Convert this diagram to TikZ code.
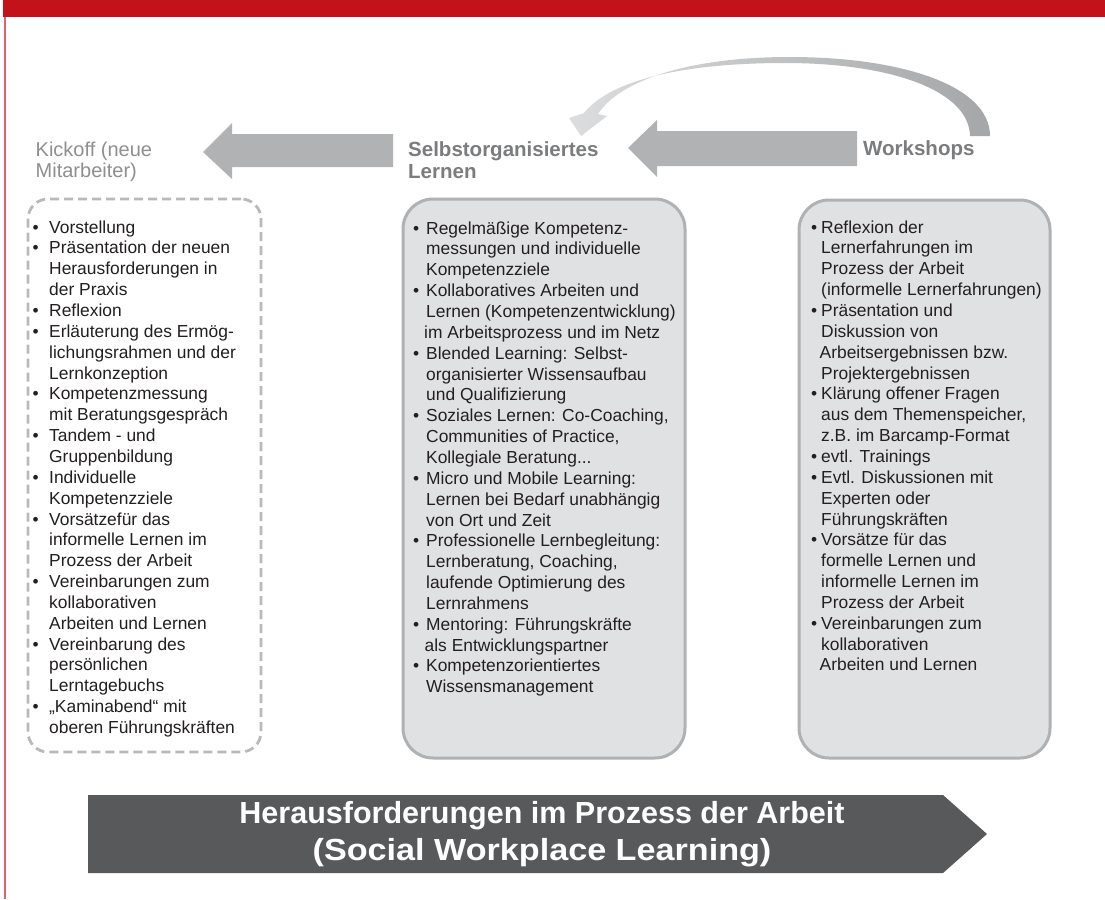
\documentclass[tikz,border=0pt]{standalone}
\usepackage{fontspec}
\setmainfont{Liberation Sans}
\definecolor{topred}{HTML}{C4121A}
\definecolor{linered}{HTML}{D8656B}
\definecolor{arrowgray}{HTML}{B1B2B4}
\definecolor{boxfill}{HTML}{E0E1E3}
\definecolor{boxline}{HTML}{B0B1B3}
\definecolor{dashgray}{HTML}{B8B9BB}
\definecolor{titlegray}{HTML}{7B7C7E}
\definecolor{kickgray}{HTML}{8E8F91}
\definecolor{bannergray}{HTML}{58595B}
\definecolor{bodytext}{HTML}{231F20}
\definecolor{curvedark}{HTML}{A5A6A8}
\definecolor{curvemid}{HTML}{C8C9CA}
\definecolor{curvelight}{HTML}{DCDDDE}
\newcommand\mybul[1]{\makebox[#1][l]{•}}
\newcommand\myind[1]{\hspace*{#1}}
\begin{document}
\begin{tikzpicture}[x=1pt,y=-1pt,
  listtext/.style={anchor=north west,inner sep=0pt,align=left,text=bodytext,
    font=\fontsize{17.4}{20.85}\selectfont},
  solidbox/.style={draw=boxline,line width=3pt,fill=boxfill,rounded corners=30pt,inner sep=0pt},
  dashbox/.style={draw=dashgray,line width=2.8pt,dash pattern=on 9pt off 5pt,rounded corners=20pt,inner sep=0pt},
  blockarrow/.style={fill=arrowgray,draw=none},
  headtitle/.style={inner sep=0pt,text=titlegray,align=left,
    font=\bfseries\fontsize{20.5}{22}\selectfont},
  bannertext/.style={inner sep=0pt,text=white,align=center,
    font=\bfseries\fontsize{30.5}{37}\selectfont}]
\useasboundingbox (0,0) rectangle (1105,899);
\fill[white] (0,0) rectangle (1105,899);
% red frame
\fill[topred] (3,0) rectangle (1105,17);
\draw[linered,line width=2pt] (5,17) -- (5,899);

% titles
\node[anchor=north west,inner sep=0pt,text=kickgray,align=left,
  font=\fontsize{20}{21.5}\selectfont] (kick) at (35.5,141.4) {Kickoff (neue\\Mitarbeiter)};
\node[headtitle,anchor=north west] (selb) at (408,141) {Selbstorganisiertes\\Lernen};
\node[headtitle,anchor=base west] (work) at (863,155) {Workshops};

% block arrows
\coordinate (a1tip) at (203,152);
\coordinate (a1end) at (393,150.5);
\fill[blockarrow] (a1tip) -- (232,123) -- (232,134) -- (a1end |- 0,134) -- (a1end |- 0,167) -- (232,167) -- (232,179) -- cycle;
\coordinate (a2tip) at (628,148);
\coordinate (a2end) at (857,148.5);
\fill[blockarrow] (a2tip) -- (657,120) -- (657,131) -- (a2end |- 0,131) -- (a2end |- 0,166) -- (657,166) -- (657,177) -- cycle;

% curved return arrow
\shade[left color=curvelight,middle color=curvemid,right color=curvedark]
  (990,136) .. controls (990,85) and (900,57) .. (790,57)
  .. controls (690,57) and (620,80) .. (598,114)
  -- (607,116) -- (581,136) -- (569,118) -- (584,113)
  .. controls (612,78) and (690,63) .. (785,63)
  .. controls (890,63) and (969,90) .. (970,136) -- cycle;

% boxes
\node[dashbox,minimum width=233pt,minimum height=553pt] (kickbox) at (144.5,475.5) {};
\node[solidbox,minimum width=282pt,minimum height=559pt] (selbox) at (544,478.5) {};
\node[solidbox,minimum width=251pt,minimum height=558pt] (workbox) at (924.5,479) {};

\node[listtext] (kicklist) at (32.5,220.3) {%
\mybul{16.5pt}Vorstellung\\
\mybul{16.5pt}Präsentation der neuen\\
\myind{16.5pt}Herausforderungen in\\
\myind{16.5pt}der Praxis\\
\mybul{16.5pt}Reflexion\\
\mybul{16.5pt}Erläuterung des Ermög-\\
\myind{16.5pt}lichungsrahmen und der\\
\myind{16.5pt}Lernkonzeption\\
\mybul{16.5pt}Kompetenzmessung\\
\myind{16.5pt}mit Beratungsgespräch\\
\mybul{16.5pt}Tandem - und\\
\myind{16.5pt}Gruppenbildung\\
\mybul{16.5pt}Individuelle\\
\myind{16.5pt}Kompetenzziele\\
\mybul{16.5pt}Vorsätzefür das\\
\myind{16.5pt}informelle Lernen im\\
\myind{16.5pt}Prozess der Arbeit\\
\mybul{16.5pt}Vereinbarungen zum\\
\myind{16.5pt}kollaborativen\\
\myind{16.5pt}Arbeiten und Lernen\\
\mybul{16.5pt}Vereinbarung des\\
\myind{16.5pt}persönlichen\\
\myind{16.5pt}Lerntagebuchs\\
\mybul{16.5pt}„Kaminabend“ mit\\
\myind{16.5pt}oberen Führungskräften};

\node[listtext] (sellist) at (413,221.3) {%
\mybul{13pt}Regelmäßige Kompetenz-\\
\myind{13pt}messungen und individuelle\\
\myind{13pt}Kompetenzziele\\
\mybul{13pt}Kollaboratives Arbeiten und\\
\myind{13pt}Lernen (Kompetenzentwicklung)\\
\myind{11pt}im Arbeitsprozess und im Netz\\
\mybul{13pt}Blended Learning: Selbst-\\
\myind{13pt}organisierter Wissensaufbau\\
\myind{13pt}und Qualifizierung\\
\mybul{13pt}Soziales Lernen: Co-Coaching,\\
\myind{13pt}Communities of Practice,\\
\myind{13pt}Kollegiale Beratung...\\
\mybul{13pt}Micro und Mobile Learning:\\
\myind{13pt}Lernen bei Bedarf unabhängig\\
\myind{13pt}von Ort und Zeit\\
\mybul{13pt}Professionelle Lernbegleitung:\\
\myind{13pt}Lernberatung, Coaching,\\
\myind{13pt}laufende Optimierung des\\
\myind{13pt}Lernrahmens\\
\mybul{13pt}Mentoring: Führungskräfte\\
\myind{11.5pt}als Entwicklungspartner\\
\mybul{13pt}Kompetenzorientiertes\\
\myind{13pt}Wissensmanagement};

\node[listtext] (worklist) at (811,220.3) {%
\mybul{10pt}Reflexion der\\
\myind{10pt}Lernerfahrungen im\\
\myind{10pt}Prozess der Arbeit\\
\myind{10pt}(informelle Lernerfahrungen)\\
\mybul{10pt}Präsentation und\\
\myind{10pt}Diskussion von\\
\myind{8.5pt}Arbeitsergebnissen bzw.\\
\myind{10pt}Projektergebnissen\\
\mybul{10pt}Klärung offener Fragen\\
\myind{10pt}aus dem Themenspeicher,\\
\myind{10pt}z.B. im Barcamp-Format\\
\mybul{10pt}evtl. Trainings\\
\mybul{10pt}Evtl. Diskussionen mit\\
\myind{10pt}Experten oder\\
\myind{10pt}Führungskräften\\
\mybul{10pt}Vorsätze für das\\
\myind{10pt}formelle Lernen und\\
\myind{10pt}informelle Lernen im\\
\myind{10pt}Prozess der Arbeit\\
\mybul{10pt}Vereinbarungen zum\\
\myind{10pt}kollaborativen\\
\myind{8.5pt}Arbeiten und Lernen};

% banner
\coordinate (bantip) at (987,834);
\fill[bannergray] (88,795) -- (943,795) -- (bantip) -- (943,873) -- (88,873) -- cycle;
\node[bannertext] (banner) at (542,834) {Herausforderungen im Prozess der Arbeit\\\scalebox{1.12}[1]{(Social Workplace Learning)}};
\end{tikzpicture}
\end{document}
